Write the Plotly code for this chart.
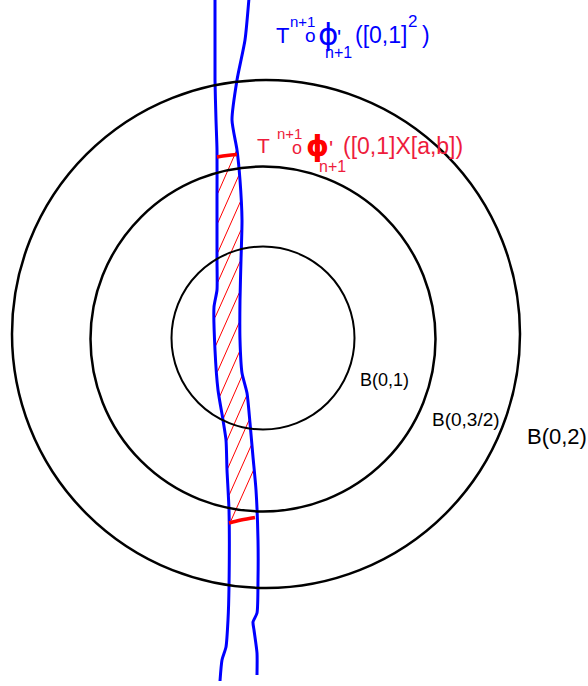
import numpy as np
import plotly.graph_objects as go

# ---------------- data (drawing pixel space, y downwards) ----------------
circle_labels = ["B(0,1)", "B(0,3/2)", "B(0,2)"]
circle_cx = [263, 263, 266]
circle_cy = [338, 339, 334]
circle_r = [91.5, 172.5, 254]

# left blue boundary curve
left_x = [215, 215, 216, 217, 217, 217, 217, 214, 215, 218, 223, 226, 227, 229, 229, 228, 226, 222, 220]
left_y = [-2, 80, 120, 150, 200, 260, 290, 307, 350, 390, 420, 440, 470, 510, 587, 620, 647, 660, 681]
# right blue boundary curve
right_x = [249, 245, 237, 232, 237, 240, 242, 241, 240, 240, 242, 247, 250, 253, 256, 258, 258, 257, 253, 254, 257, 257]
right_y = [-2, 40, 80, 120, 150, 180, 220, 260, 300, 340, 373, 393, 423, 457, 490, 540, 580, 613, 622, 630, 653, 675]

# red caps of the hatched strip
top_cap_x = [217, 227, 237]
top_cap_y = [157, 155.5, 154.5]
bot_cap_x = [229, 241, 255]
bot_cap_y = [523, 520, 517.5]

# label pieces: (text, left x, baseline y, font size)
blue_parts = [("T", 276, 43, 22), ("n+1", 290, 27, 15), ("o", 305, 42, 19),
              ("\u03d5", 318, 45, 31), ("'", 337, 45, 22), ("n+1", 325, 58, 16),
              ("([0,1]", 355, 43, 23), ("2", 408, 27, 17), (")", 422, 43, 23)]
red_parts = [("T", 257, 153, 21), ("n+1", 277, 139, 15), ("o", 292, 154, 18),
             ("\u03d5", 306, 156, 29), ("'", 329, 156, 22), ("n+1", 319, 172, 16),
             ("([0,1]X[a,b])", 343, 154, 23)]
ball_label_pos = [(360, 386, 18), (432, 426, 19), (527, 444, 22)]

BLUE = "#0000ff"
RED = "#ff0000"
RED_TXT = "#ee1c3c"
FONT = "Liberation Sans, Arial, sans-serif"
PHI = "\u03d5"

fig = go.Figure()

# circles
for cx, cy, r, w in zip(circle_cx, circle_cy, circle_r, [2, 2.5, 2.5]):
    fig.add_shape(type="circle", xref="x", yref="y", x0=cx - r, x1=cx + r,
                  y0=cy - r, y1=cy + r, line=dict(color="black", width=w))

# hatching inside the strip (computed from the two boundary curves)
yy = np.linspace(100, 560, 4000)
xl = np.interp(yy, left_y, left_x)
xr = np.interp(yy, right_y, right_x)
slope = 2.1
hx, hy = [], []
for c in np.arange(649, 1006, 29.6):
    fl = yy + slope * xl - c
    fr = yy + slope * xr - c
    il = np.argmin(np.abs(fl))
    ir = np.argmin(np.abs(fr))
    hx += [xl[il] + 0.8, xr[ir] - 0.8, None]
    hy += [yy[il], yy[ir], None]
fig.add_trace(go.Scatter(x=hx, y=hy, mode="lines", line=dict(color=RED, width=1),
                         hoverinfo="skip", showlegend=False))

# blue curves
for xs, ys in [(left_x, left_y), (right_x, right_y)]:
    fig.add_trace(go.Scatter(x=xs, y=ys, mode="lines",
                             line=dict(color=BLUE, width=3, shape="spline", smoothing=0.6),
                             hoverinfo="skip", showlegend=False))

# red caps
for xs, ys in [(top_cap_x, top_cap_y), (bot_cap_x, bot_cap_y)]:
    fig.add_trace(go.Scatter(x=xs, y=ys, mode="lines",
                             line=dict(color=RED, width=3.5, shape="spline"),
                             hoverinfo="skip", showlegend=False))


def put(text, x, base, size, color, family=FONT, weight="normal"):
    fig.add_annotation(x=x, y=base - 0.3465 * size, xref="x", yref="y", text=text,
                       showarrow=False, xanchor="left", yanchor="middle",
                       borderpad=0, borderwidth=0,
                       font=dict(family=family, size=size, color=color, weight=weight))


for t, x, b, s in blue_parts:
    if t == PHI:
        put(t, x, b, s, BLUE, "DejaVu Sans")
    else:
        put(t, x, b, s, BLUE)
for t, x, b, s in red_parts:
    if t == PHI:
        put(t, x, b, s, RED, "DejaVu Sans", "bold")
    else:
        put(t, x, b, s, RED_TXT)
for lab, (x, b, s) in zip(circle_labels, ball_label_pos):
    put(lab, x, b, s, "black")

fig.update_layout(
    width=588, height=686, margin=dict(l=0, r=0, t=0, b=0),
    paper_bgcolor="white", plot_bgcolor="white",
    xaxis=dict(range=[0, 588], visible=False, fixedrange=True),
    yaxis=dict(range=[686, 0], visible=False, fixedrange=True),
    showlegend=False,
)

fig.write_html("out.html", config={"displayModeBar": False},
               post_script="document.body.style.margin='0';document.body.style.padding='0';"
                           "document.body.style.overflow='hidden';")
